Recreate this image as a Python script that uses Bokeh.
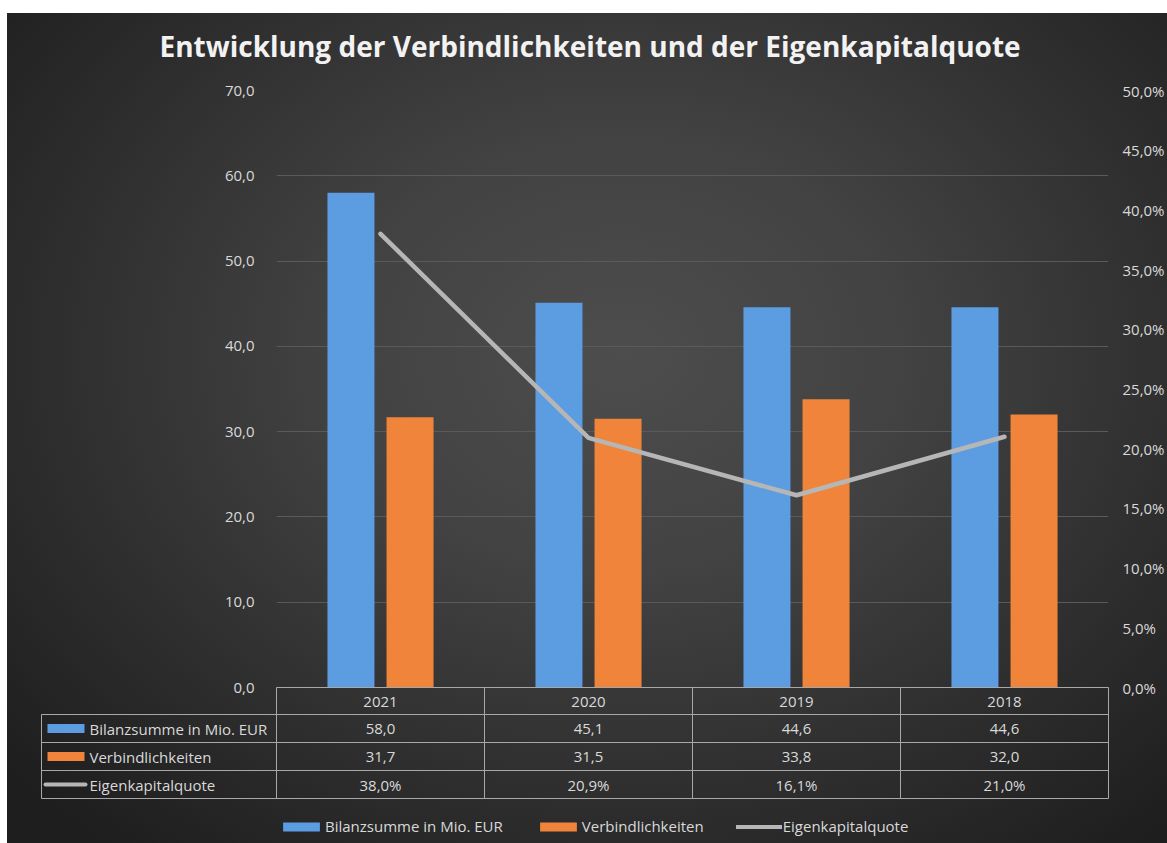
import numpy as np
from bokeh.plotting import figure
from bokeh.models import (Range1d, LinearAxis, FixedTicker, CustomJSTickFormatter,
                          ColumnDataSource, Legend, LegendItem, Spacer)
from bokeh.layouts import column, row
from bokeh.transform import dodge
from bokeh.core.properties import value
from bokeh.embed import file_html
from bokeh.resources import INLINE

# ---------------- data ----------------
years = ["2021", "2020", "2019", "2018"]
bilanzsumme = [58.0, 45.1, 44.6, 44.6]
verbindlichkeiten = [31.7, 31.5, 33.8, 32.0]
eigenkapitalquote = [38.0, 20.9, 16.1, 21.0]
series_names = ["Bilanzsumme in Mio. EUR", "Verbindlichkeiten", "Eigenkapitalquote"]
left_ticks = [0, 10, 20, 30, 40, 50, 60, 70]
right_ticks = [0, 5, 10, 15, 20, 25, 30, 35, 40, 45, 50]
title_text = "Entwicklung der Verbindlichkeiten und der Eigenkapitalquote"

# ---------------- style ----------------
FONT = "Open Sans"
BLUE = "#5b9de0"
ORANGE = "#f0843a"
GRAY = "#b6b6b6"
TEXT = "#d9d9d9"
RULE = "#a8a8a8"

# ---------------- layout (pixels of the page) ----------------
W = 1160                    # chart area width
OX = 7                      # chart area left offset on the page
CHART_TOP = 13              # first dark row on the page
CANVAS_TOP = 1              # where the figure canvas starts
FRAME_L, FRAME_R, FRAME_T, FRAME_B = 276, 1108, 90, 843
ZERO_PY = 687               # y pixel of value 0
COL_PX = (FRAME_R - FRAME_L) / 4.0
YMAX = 70.0
PMAX = 50.0
PXU = (ZERO_PY - FRAME_T) / YMAX
WHITE = CHART_TOP - CANVAS_TOP

BG = (f"linear-gradient(to bottom, #ffffff 0px, #ffffff {WHITE}px, transparent {WHITE}px), "
      "radial-gradient(ellipse 70% 75% at 53% 42%, #4d4d4d 0%, #424242 35%, "
      "#2d2d2d 72%, #1e1e1e 100%)")

def ypix(py):
    return (ZERO_PY - py) / PXU

def xpix(px):
    return (px - FRAME_L) / COL_PX

def fmt(v, pct=False):
    s = f"{v:.1f}".replace(".", ",")
    return s + "%" if pct else s

n = len(years)
src = ColumnDataSource(dict(x=np.arange(n) + 0.5, year=years, bil=bilanzsumme,
                            verb=verbindlichkeiten, ekq=eigenkapitalquote))

y_lo = ypix(FRAME_B)
p = figure(frame_width=FRAME_R - FRAME_L, frame_height=FRAME_B - FRAME_T,
           x_range=Range1d(0, n), y_range=Range1d(y_lo, YMAX),
           min_border_left=FRAME_L - OX, min_border_right=OX + W - FRAME_R,
           min_border_top=FRAME_T - CANVAS_TOP, min_border_bottom=0,
           x_axis_location=None,
           output_backend="svg", toolbar_location=None,
           background_fill_color=None, border_fill_color=None, outline_line_color=None,
           styles={"background": BG})
p.extra_y_ranges = {"pct": Range1d(y_lo * PMAX / YMAX, PMAX)}

# ---------------- bars + line ----------------
p.vbar(x=dodge("x", -0.142), top="bil", width=0.226, source=src,
       fill_color=BLUE, line_color=None)
p.vbar(x=dodge("x", 0.142), top="verb", width=0.226, source=src,
       fill_color=ORANGE, line_color=None)
p.line("x", "ekq", source=src, y_range_name="pct", line_color=GRAY, line_width=4.5,
       line_join="round", line_cap="round")

# ---------------- title ----------------
p.title.text = title_text
p.title.text_font = FONT
p.title.text_font_size = "28px"
p.title.text_font_style = "bold"
p.title.text_color = "#f2f2f2"
p.title.align = "left"
p.title.offset = -117
p.title.vertical_align = "top"
p.title.standoff = 48

p.xgrid.visible = False
p.ygrid.grid_line_color = "#5a5a5a"
p.ygrid.grid_line_width = 1

def style_axis(ax, standoff):
    ax.axis_line_color = None
    ax.major_tick_line_color = None
    ax.minor_tick_line_color = None
    ax.major_tick_out = 0
    ax.major_tick_in = 0
    ax.major_label_standoff = standoff
    ax.major_label_text_font = FONT
    ax.major_label_text_font_size = "15px"
    ax.major_label_text_color = TEXT

yl = p.yaxis[0]
yl.ticker = FixedTicker(ticks=left_ticks)
yl.formatter = CustomJSTickFormatter(code="return tick.toFixed(1).replace('.', ',')")
style_axis(yl, 22)

yr = LinearAxis(y_range_name="pct", ticker=FixedTicker(ticks=right_ticks),
                formatter=CustomJSTickFormatter(code="return tick.toFixed(1).replace('.', ',') + '%'"))
style_axis(yr, 14)
p.add_layout(yr, "right")

# ---------------- data table ----------------
HEAD_B = 714
ROW_PX = 28
nrows = len(series_names)
row_edges = [HEAD_B + k * ROW_PX for k in range(nrows + 1)]
LEFT_U = xpix(41)
LABEL_U = xpix(89)
KEY_U = xpix(65.5)
KEY_L0, KEY_L1 = xpix(45), xpix(85)

# horizontal rules
p.segment(x0=[0], x1=[n], y0=[0], y1=[0], line_color=RULE, line_width=1, level="overlay")
p.segment(x0=[LEFT_U] * len(row_edges), x1=[n] * len(row_edges),
          y0=[ypix(e) for e in row_edges], y1=[ypix(e) for e in row_edges],
          line_color=RULE, line_width=1, level="overlay")
# vertical rules
vx = list(range(n + 1))
p.segment(x0=vx, x1=vx, y0=[0] * len(vx), y1=[ypix(row_edges[-1])] * len(vx),
          line_color=RULE, line_width=1, level="overlay")
p.segment(x0=[LEFT_U], x1=[LEFT_U], y0=[ypix(HEAD_B)], y1=[ypix(row_edges[-1])],
          line_color=RULE, line_width=1, level="overlay")

# header (years)
p.text(x=list(np.arange(n) + 0.5), y=[ypix((ZERO_PY + HEAD_B) / 2 + 1)] * n, text=years,
       text_font=value(FONT), text_font_size="15px", text_color=TEXT,
       text_align="center", text_baseline="middle", level="overlay")

cells_x, cells_y, cells_t = [], [], []
for r, (vals, pct) in enumerate([(bilanzsumme, False), (verbindlichkeiten, False),
                                 (eigenkapitalquote, True)]):
    for i, v in enumerate(vals):
        cells_x.append(i + 0.5)
        cells_y.append(ypix(HEAD_B + (r + 0.5) * ROW_PX))
        cells_t.append(fmt(v, pct))
p.text(x=cells_x, y=cells_y, text=cells_t, text_font=value(FONT), text_font_size="15px",
       text_color=TEXT, text_align="center", text_baseline="middle", level="overlay")

row_c = [ypix(HEAD_B + (r + 0.5) * ROW_PX) for r in range(nrows)]
p.text(x=[LABEL_U] * nrows, y=row_c, text=series_names,
       text_font=value(FONT), text_font_size="15px", text_color=TEXT,
       text_align="left", text_baseline="middle", level="overlay")

k_blue = p.rect(x=[KEY_U], y=[row_c[0]], width=37, height=9, width_units="screen",
                height_units="screen", fill_color=BLUE, line_color=None, level="overlay")
k_orange = p.rect(x=[KEY_U], y=[row_c[1]], width=37, height=9, width_units="screen",
                  height_units="screen", fill_color=ORANGE, line_color=None, level="overlay")
k_line = p.segment(x0=[KEY_L0], x1=[KEY_L1], y0=[row_c[2]], y1=[row_c[2]], line_color=GRAY,
                   line_width=4, line_cap="round", level="overlay")

# ---------------- legend ----------------
legend = Legend(items=[LegendItem(label=series_names[0], renderers=[k_blue]),
                       LegendItem(label=series_names[1], renderers=[k_orange]),
                       LegendItem(label=series_names[2], renderers=[k_line])],
                location=(2, 7), orientation="horizontal", glyph_width=46, glyph_height=11,
                label_standoff=1, spacing=32, padding=0, margin=0,
                border_line_color=None, background_fill_alpha=0,
                label_text_font=FONT, label_text_font_size="15px", label_text_color=TEXT)
p.add_layout(legend)

page = column(Spacer(width=W + OX, height=CANVAS_TOP),
              row(Spacer(width=OX, height=FRAME_B - CANVAS_TOP), p, spacing=0),
              spacing=0)

open("out.html", "w").write(file_html(page, INLINE))
